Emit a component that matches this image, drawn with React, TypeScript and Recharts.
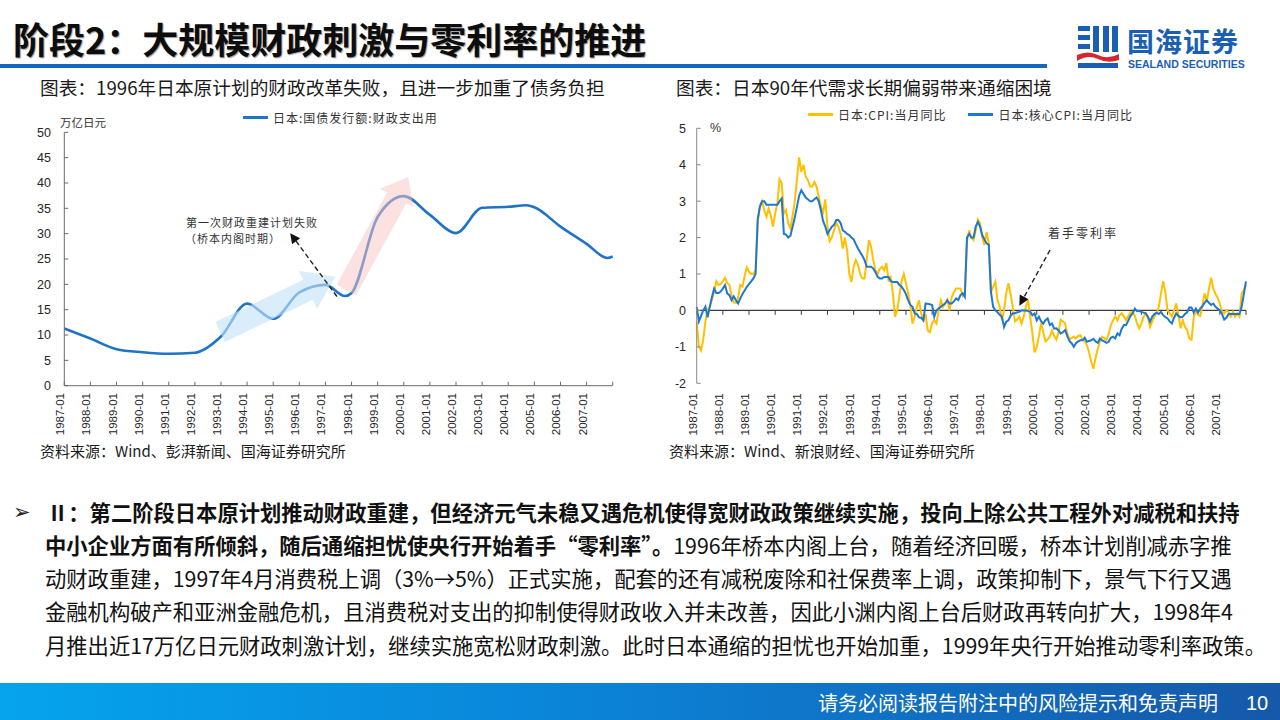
import React from "react";
import { Line, LineChart, ReferenceLine, XAxis, YAxis } from "recharts";

// 左图：日本国债发行额（财政支出用），万亿日元
const debtYears = [1987, 1988, 1989, 1990, 1991, 1992, 1993, 1994, 1995, 1996, 1997, 1997.75, 1998, 1999, 2000, 2001, 2002, 2003, 2004, 2004.7, 2005, 2006, 2007, 2007.8, 2008];
const debtValues = [11.3, 9.3, 7.2, 6.6, 6.3, 6.5, 9.7, 16.2, 13.2, 18.4, 19.9, 17.7, 18.3, 33.3, 37.4, 33.7, 30.1, 35.1, 35.3, 35.6, 35.2, 31.4, 28.0, 25.2, 25.5];
const debtTickYears = [1987, 1988, 1989, 1990, 1991, 1992, 1993, 1994, 1995, 1996, 1997, 1998, 1999, 2000, 2001, 2002, 2003, 2004, 2005, 2006, 2007, 2008];
const yearLabels = ["1987-01", "1988-01", "1989-01", "1990-01", "1991-01", "1992-01", "1993-01", "1994-01", "1995-01", "1996-01", "1997-01", "1998-01", "1999-01", "2000-01", "2001-01", "2002-01", "2003-01", "2004-01", "2005-01", "2006-01", "2007-01"];
const debtTicksY = [0, 5, 10, 15, 20, 25, 30, 35, 40, 45, 50];
const debtSeriesName = "日本:国债发行额:财政支出用";

// 右图：日本CPI与核心CPI当月同比（1987-01 至 2008-01，月度）
const cpiValues = [
  -0.3, -1.0, -1.1, -0.8, -0.3, 0.0, 0.1, 0.3, 0.5, 0.8, 0.7, 0.72,
  0.8, 0.9, 0.75, 0.7, 0.4, 0.22, 0.21, 0.35, 0.7, 0.65, 0.95, 1.18,
  1.06, 1.0, 1.0, 1.1, 2.45, 2.85, 3.0, 2.75, 2.57, 2.8, 2.6, 2.3,
  2.66, 2.94, 3.6, 3.49, 2.66, 2.75, 2.39, 2.25, 2.6, 3.0, 3.6, 4.2,
  3.8, 4.0, 3.67, 3.58, 3.4, 3.4, 3.53, 3.4, 3.12, 2.85, 2.7, 3.05,
  2.3, 1.9, 2.0, 2.2, 2.4, 2.3, 2.1, 1.7, 2.0, 1.65, 1.0, 0.78,
  1.2, 1.38, 1.25, 1.0, 0.88, 0.88, 1.4, 1.93, 1.75, 1.38, 1.1, 1.0,
  1.15, 1.2, 1.1, 1.3, 0.83, 0.92, 0.47, -0.17, 0.0, 0.4, 0.8, 1.0,
  0.74, 0.47, 0.15, -0.36, -0.17, 0.1, 0.28, -0.08, -0.27, -0.1, -0.55, -0.6,
  -0.35, -0.27, -0.36, 0.0, 0.28, 0.1, 0.2, 0.3, 0.0, 0.37, 0.5, 0.6,
  0.6, 0.6, 0.4, 0.5, 1.9, 2.2, 2.0, 1.93, 2.2, 2.5, 2.4, 2.0,
  1.8, 2.15, 1.85, 0.5, 0.65, 0.79, 0.28, 0.1, -0.27, 0.0, 0.47, 0.75,
  0.45, 0.1, -0.3, -0.25, -0.17, -0.36, -0.17, 0.1, 0.28, -0.17, -0.63, -1.15,
  -1.0, -0.7, -0.35, -0.6, -0.85, -0.8, -0.72, -0.55, -0.7, -0.8, -0.6, -0.25,
  -0.3, -0.36, -0.63, -0.8, -0.75, -0.72, -0.77, -0.7, -0.68, -0.8, -0.85, -0.95,
  -1.15, -1.4, -1.6, -1.3, -1.05, -0.85, -0.72, -0.76, -0.81, -0.65, -0.4, -0.28,
  -0.17, -0.27, -0.13, -0.08, -0.17, -0.27, -0.15, -0.05, -0.05, -0.15, -0.35, -0.49,
  -0.36, -0.17, -0.08, -0.2, -0.45, -0.3, -0.17, -0.08, 0.1, 0.47, 0.8, 0.5,
  0.0, -0.08, -0.17, 0.0, 0.19, -0.13, -0.49, -0.27, -0.45, -0.54, -0.77, -0.81,
  -0.2, 0.0, -0.12, -0.15, 0.12, 0.47, 0.25, 0.6, 0.9, 0.6, 0.45, 0.35,
  0.19, -0.04, -0.08, 0.0, -0.04, -0.17, -0.04, -0.17, -0.08, -0.17, 0.47, 0.56,
  0.7,
];
const coreCpiValues = [
  0.1, -0.3, -0.15, 0.0, 0.1, -0.19, 0.1, 0.37, 0.6, 0.48, 0.48, 0.52,
  0.6, 0.7, 0.47, 0.42, 0.28, 0.39, 0.28, 0.19, 0.33, 0.45, 0.55, 0.65,
  0.72, 0.8, 0.88, 1.0, 2.5, 2.85, 3.0, 3.0, 2.9, 2.9, 2.9, 2.9,
  2.9, 2.9, 3.0, 3.07, 2.1, 2.08, 2.0, 2.05, 2.3, 2.55, 2.85, 3.15,
  3.3, 3.2, 3.1, 3.05, 3.0, 3.0, 3.05, 3.1, 3.0, 2.75, 2.45, 2.3,
  2.1, 2.2, 2.3, 2.35, 2.48, 2.48, 2.4, 2.2, 2.16, 2.1, 2.07, 2.0,
  1.95, 1.82, 1.7, 1.6, 1.5, 1.38, 1.2, 1.2, 1.2, 1.15, 1.05, 0.92,
  0.88, 0.88, 0.92, 0.92, 0.92, 0.8, 0.78, 0.78, 0.78, 0.7, 0.65, 0.56,
  0.45, 0.28, 0.15, 0.1, -0.08, -0.1, -0.19, -0.2, -0.27, 0.19, 0.18, 0.17,
  0.15, -0.17, 0.0, 0.05, 0.1, 0.15, 0.19, 0.28, 0.19, 0.19, 0.25, 0.33,
  0.28, 0.42, 0.47, 0.37, 2.0, 2.1, 2.0, 2.0, 2.3, 2.43, 2.3, 2.07,
  1.95, 1.84, 1.8, 0.5, 0.1, 0.0, -0.05, -0.12, -0.17, -0.45, -0.31, -0.27,
  -0.15, -0.08, -0.08, -0.05, -0.04, 0.0, 0.0, 0.0, -0.02, -0.04, -0.13, -0.08,
  -0.27, -0.17, -0.3, -0.36, -0.27, -0.22, -0.4, -0.36, -0.5, -0.49, -0.55, -0.63,
  -0.6, -0.54, -0.7, -0.84, -0.9, -1.0, -0.9, -0.85, -0.82, -0.82, -0.75, -0.86,
  -0.84, -0.82, -0.78, -0.85, -0.89, -0.77, -0.82, -0.85, -0.89, -0.86, -0.75, -0.72,
  -0.77, -0.63, -0.68, -0.5, -0.4, -0.4, -0.28, -0.15, -0.08, 0.05, -0.02, -0.01,
  -0.04, -0.06, -0.08, -0.17, -0.31, -0.17, -0.1, -0.06, -0.1, -0.04, -0.13, -0.18,
  -0.22, -0.3, -0.36, -0.2, -0.08, -0.15, -0.19, -0.17, -0.1, -0.05, 0.08, 0.08,
  -0.05, 0.05, -0.06, 0.05, 0.12, 0.21, 0.28, 0.21, 0.15, 0.19, 0.1, 0.05,
  0.0, -0.1, -0.25, -0.2, -0.1, -0.1, -0.1, -0.1, -0.1, -0.1, 0.1, 0.45,
  0.8,
];
const cpiTicksY = [-2, -1, 0, 1, 2, 3, 4, 5];
const cpiSeriesNames = ["日本:CPI:当月同比", "日本:核心CPI:当月同比"];
const cpiColors = ["#ffc000", "#1f78d0"];

const debtRows = debtYears.map((year, i) => ({ year, value: debtValues[i] }));
const cpiRows = cpiValues.map((cpi, i) => ({ m: i, cpi, core: coreCpiValues[i] }));
const monthTicks = yearLabels.map((_, i) => i * 12).concat([252]);

const latin = "'Liberation Sans', Arial, sans-serif";
const cjk = "'Noto Sans CJK SC', sans-serif";

function RotatedTick(props: any) {
  const { x, y, payload, label } = props;
  const text = label(payload.value);
  return (
    <text x={x} y={y} transform={`rotate(-90 ${x} ${y})`} textAnchor="end" fontSize={11.5} fill="#262626" fontFamily={latin}>
      {text}
    </text>
  );
}

function BlockArrow(props: any) {
  const { x1, y1, x2, y2, fill, shaft, head, headLen } = props;
  if (x1 == null || x2 == null) return <g />;
  const dx = x2 - x1;
  const dy = y2 - y1;
  const len = Math.hypot(dx, dy) || 1;
  const ux = dx / len, uy = dy / len;
  const nx = -uy, ny = ux;
  const bx = x2 - ux * headLen, by = y2 - uy * headLen;
  const pts = [
    [x1 + nx * shaft, y1 + ny * shaft],
    [bx + nx * shaft, by + ny * shaft],
    [bx + nx * head, by + ny * head],
    [x2, y2],
    [bx - nx * head, by - ny * head],
    [bx - nx * shaft, by - ny * shaft],
    [x1 - nx * shaft, y1 - ny * shaft],
  ];
  return <polygon points={pts.map((p) => p.join(",")).join(" ")} fill={fill} />;
}

function DashedArrow(props: any) {
  const { x1, y1, x2, y2 } = props;
  if (x1 == null || x2 == null) return <g />;
  const dx = x2 - x1;
  const dy = y2 - y1;
  const len = Math.hypot(dx, dy) || 1;
  const ux = dx / len, uy = dy / len;
  const nx = -uy, ny = ux;
  const hl = 10, hw = 5;
  const bx = x2 - ux * hl, by = y2 - uy * hl;
  return (
    <g>
      <line x1={x1} y1={y1} x2={bx} y2={by} stroke="#222" strokeWidth={1.4} strokeDasharray="5 3" />
      <polygon points={`${x2},${y2} ${bx + nx * hw},${by + ny * hw} ${bx - nx * hw},${by - ny * hw}`} fill="#111" />
    </g>
  );
}

function LegendItem({ color, name, width }: { color: string; name: string; width: number }) {
  return (
    <div style={{ display: "flex", alignItems: "center", whiteSpace: "nowrap" }}>
      <div style={{ width, height: 2.5, background: color, marginRight: 5 }} />
      <span style={{ fontSize: 12, letterSpacing: 1, color: "#333", fontFamily: cjk }}>{name}</span>
    </div>
  );
}

const bodyLines = [
  { bold: "Ⅱ：第二阶段日本原计划推动财政重建，但经济元气未稳又遇危机使得宽财政政策继续实施，投向上除公共工程外对减税和扶持", normal: "" },
  { bold: "中小企业方面有所倾斜，随后通缩担忧使央行开始着手“零利率”。", normal: "1996年桥本内阁上台，随着经济回暖，桥本计划削减赤字推" },
  { bold: "", normal: "动财政重建，1997年4月消费税上调（3%→5%）正式实施，配套的还有减税废除和社保费率上调，政策抑制下，景气下行又遇" },
  { bold: "", normal: "金融机构破产和亚洲金融危机，且消费税对支出的抑制使得财政收入并未改善，因此小渊内阁上台后财政再转向扩大，1998年4" },
  { bold: "", normal: "月推出近17万亿日元财政刺激计划，继续实施宽松财政刺激。此时日本通缩的担忧也开始加重，1999年央行开始推动零利率政策。" },
];

function Logo() {
  return (
    <div style={{ position: "absolute", left: 1076, top: 24 }}>
      <svg width={44} height={46} viewBox="0 0 44 46">
        <rect x={2} y={2} width={12} height={5} fill="#1b5fb3" />
        <rect x={2} y={11} width={12} height={5} fill="#1b5fb3" />
        <rect x={2} y={20} width={12} height={5} fill="#1b5fb3" />
        <rect x={17} y={2} width={6} height={26} fill="#1b5fb3" />
        <rect x={27} y={2} width={6} height={26} fill="#1b5fb3" />
        <rect x={36} y={2} width={6} height={26} fill="#1b5fb3" />
        <path d="M1 31 Q12 26 22 31 T43 30 L43 36 Q32 40 22 35 T1 37 Z" fill="#d8262e" />
        <rect x={2} y={39} width={40} height={5} fill="#1b5fb3" />
      </svg>
      <div style={{ position: "absolute", left: 51, top: 3, fontSize: 27, fontWeight: 700, color: "#1b5fb3", fontFamily: cjk, whiteSpace: "nowrap", lineHeight: "28px", letterSpacing: 1 }}>
        国海证券
      </div>
      <div style={{ position: "absolute", left: 52, top: 35, fontSize: 10.5, fontWeight: 700, color: "#1b5fb3", fontFamily: "'Liberation Sans Narrow', " + latin, whiteSpace: "nowrap", lineHeight: "11px" }}>
        SEALAND SECURITIES
      </div>
    </div>
  );
}

export default function App() {
  return (
    <div style={{ position: "absolute", left: 0, top: 0, width: 1280, height: 720, background: "#fff", overflow: "hidden", fontFamily: cjk, color: "#111" }}>
      {/* 标题栏 */}
      <div style={{ position: "absolute", left: 13, top: 19, fontSize: 36, fontWeight: 700, lineHeight: "38px", whiteSpace: "nowrap", textShadow: "1px 1px 1px #9a9a9a", color: "#0d0d0d" }}>
        阶段2：大规模财政刺激与零利率的推进
      </div>
      <div style={{ position: "absolute", left: 0, top: 64, width: 1047, height: 4, background: "#1766c4" }} />
      <Logo />

      {/* 左图 */}
      <div style={{ position: "absolute", left: 40, top: 75, fontSize: 18.7, lineHeight: "24px", whiteSpace: "nowrap", color: "#1a1a1a" }}>
        图表：1996年日本原计划的财政改革失败，且进一步加重了债务负担
      </div>
      <div style={{ position: "absolute", left: 0, top: 0 }}>
        <LineChart width={625} height={445} data={debtRows} margin={{ top: 132.3, right: 12.3, bottom: 4.3, left: 14.3 }}>
          <XAxis
            type="number"
            dataKey="year"
            domain={[1987, 2008]}
            ticks={debtTickYears}
            interval={0}
            height={55}
            stroke="#6b6b6b"
            tickSize={-4}
            tickMargin={11.3}
            tick={(p: any) => <RotatedTick {...p} label={(v: number) => yearLabels[debtTickYears.indexOf(v)] ?? ""} />}
          />
          <YAxis
            domain={[0, 50]}
            ticks={debtTicksY}
            interval={0}
            width={50}
            stroke="#6b6b6b"
            tickSize={-4}
            tickMargin={17.3}
            tick={{ fill: "#262626", fontSize: 12.5, fontFamily: latin }}
          />
          <Line type="monotone" dataKey="value" name={debtSeriesName} stroke="#1f74c6" strokeWidth={2.6} dot={false} isAnimationActive={false} />
          <ReferenceLine
            segment={[{ x: 1992.97, y: 10.6 }, { x: 1997.37, y: 21.5 }]}
            shape={(p: any) => <BlockArrow {...p} fill="rgba(196,226,248,0.62)" shaft={11} head={21} headLen={30} />}
          />
          <ReferenceLine
            segment={[{ x: 1997.8, y: 18.9 }, { x: 2000.17, y: 41.2 }]}
            shape={(p: any) => <BlockArrow {...p} fill="rgba(250,196,196,0.5)" shaft={11} head={19} headLen={24} />}
          />
          <ReferenceLine
            segment={[{ x: 1997.44, y: 17.6 }, { x: 1995.65, y: 30.1 }]}
            shape={(p: any) => <DashedArrow {...p} />}
          />
        </LineChart>
      </div>
      <div style={{ position: "absolute", left: 243, top: 109 }}>
        <LegendItem color="#1f74c6" name={debtSeriesName} width={25} />
      </div>
      <div style={{ position: "absolute", left: 60, top: 114, fontSize: 11.5, lineHeight: "16px", color: "#333", whiteSpace: "nowrap" }}>万亿日元</div>
      <div style={{ position: "absolute", left: 186, top: 214, fontSize: 11, lineHeight: "16px", letterSpacing: 1, color: "#333", whiteSpace: "nowrap" }}>第一次财政重建计划失败</div>
      <div style={{ position: "absolute", left: 185, top: 230, fontSize: 11, lineHeight: "16px", letterSpacing: 1, color: "#333", whiteSpace: "nowrap" }}>（桥本内阁时期）</div>
      <div style={{ position: "absolute", left: 40, top: 441, fontSize: 15, lineHeight: "20px", whiteSpace: "nowrap", color: "#1a1a1a" }}>
        资料来源：Wind、彭湃新闻、国海证券研究所
      </div>

      {/* 右图 */}
      <div style={{ position: "absolute", left: 676, top: 75, fontSize: 18.7, lineHeight: "24px", whiteSpace: "nowrap", color: "#1a1a1a" }}>
        图表：日本90年代需求长期偏弱带来通缩困境
      </div>
      <div style={{ position: "absolute", left: 640, top: 0 }}>
        <LineChart width={620} height={445} data={cpiRows} margin={{ top: 128.3, right: 14, bottom: 6.7, left: 16.7 }}>
          <XAxis
            type="number"
            dataKey="m"
            domain={[0, 252]}
            ticks={monthTicks}
            interval={0}
            height={55}
            axisLine={false}
            tickLine={false}
            tickSize={0}
            tickMargin={10}
            tick={(p: any) => <RotatedTick {...p} label={(v: number) => yearLabels[v / 12] ?? ""} />}
          />
          <YAxis
            domain={[-2, 5]}
            ticks={cpiTicksY}
            interval={0}
            width={40}
            stroke="#8a8a8a"
            tickSize={-4}
            tickMargin={14.7}
            tick={{ fill: "#262626", fontSize: 12.5, fontFamily: latin }}
          />
          <ReferenceLine y={0} stroke="#3c3c3c" strokeWidth={1.2} />
          {monthTicks.map((t) => (
            <ReferenceLine key={t} segment={[{ x: t, y: 0 }, { x: t, y: -0.12 }]} stroke="#3c3c3c" strokeWidth={1} />
          ))}
          <Line type="linear" dataKey="cpi" name={cpiSeriesNames[0]} stroke={cpiColors[0]} strokeWidth={2} dot={false} isAnimationActive={false} />
          <Line type="linear" dataKey="core" name={cpiSeriesNames[1]} stroke={cpiColors[1]} strokeWidth={2} dot={false} isAnimationActive={false} />
          <ReferenceLine
            segment={[{ x: 162.1, y: 1.66 }, { x: 148, y: 0.13 }]}
            shape={(p: any) => <DashedArrow {...p} />}
          />
        </LineChart>
      </div>
      <div style={{ position: "absolute", left: 808, top: 106, display: "flex", gap: 22 }}>
        <LegendItem color={cpiColors[0]} name={cpiSeriesNames[0]} width={25} />
        <LegendItem color={cpiColors[1]} name={cpiSeriesNames[1]} width={25} />
      </div>
      <div style={{ position: "absolute", left: 710, top: 120, fontSize: 12.5, lineHeight: "16px", color: "#333", fontFamily: latin }}>%</div>
      <div style={{ position: "absolute", left: 1048, top: 225, fontSize: 12, lineHeight: "16px", letterSpacing: 2, color: "#333", whiteSpace: "nowrap" }}>着手零利率</div>
      <div style={{ position: "absolute", left: 669, top: 441, fontSize: 15, lineHeight: "20px", whiteSpace: "nowrap", color: "#1a1a1a" }}>
        资料来源：Wind、新浪财经、国海证券研究所
      </div>

      {/* 正文 */}
      <div style={{ position: "absolute", left: 13, top: 498, fontSize: 21, lineHeight: "28px", color: "#222", fontFamily: "'DejaVu Sans', sans-serif" }}>➢</div>
      {bodyLines.map((ln, i) => (
        <div key={i} style={{ position: "absolute", left: i === 0 ? 47 : 45, top: 494.5 + i * 33.25, fontSize: 21.3, lineHeight: "33px", whiteSpace: "nowrap", color: "#111" }}>
          {ln.bold && <span style={{ fontWeight: 700 }}>{ln.bold}</span>}
          {ln.normal}
        </div>
      ))}

      {/* 页脚 */}
      <div style={{ position: "absolute", left: 0, top: 683, width: 1280, height: 37, background: "linear-gradient(to right, #05a4ec 0%, #0b84d8 45%, #1658a9 100%)" }} />
      <div style={{ position: "absolute", left: 818, top: 689, fontSize: 20, lineHeight: "28px", color: "#fff", whiteSpace: "nowrap" }}>
        请务必阅读报告附注中的风险提示和免责声明
      </div>
      <div style={{ position: "absolute", left: 1246, top: 689, fontSize: 20, lineHeight: "28px", color: "#fff", fontFamily: latin }}>10</div>
    </div>
  );
}
